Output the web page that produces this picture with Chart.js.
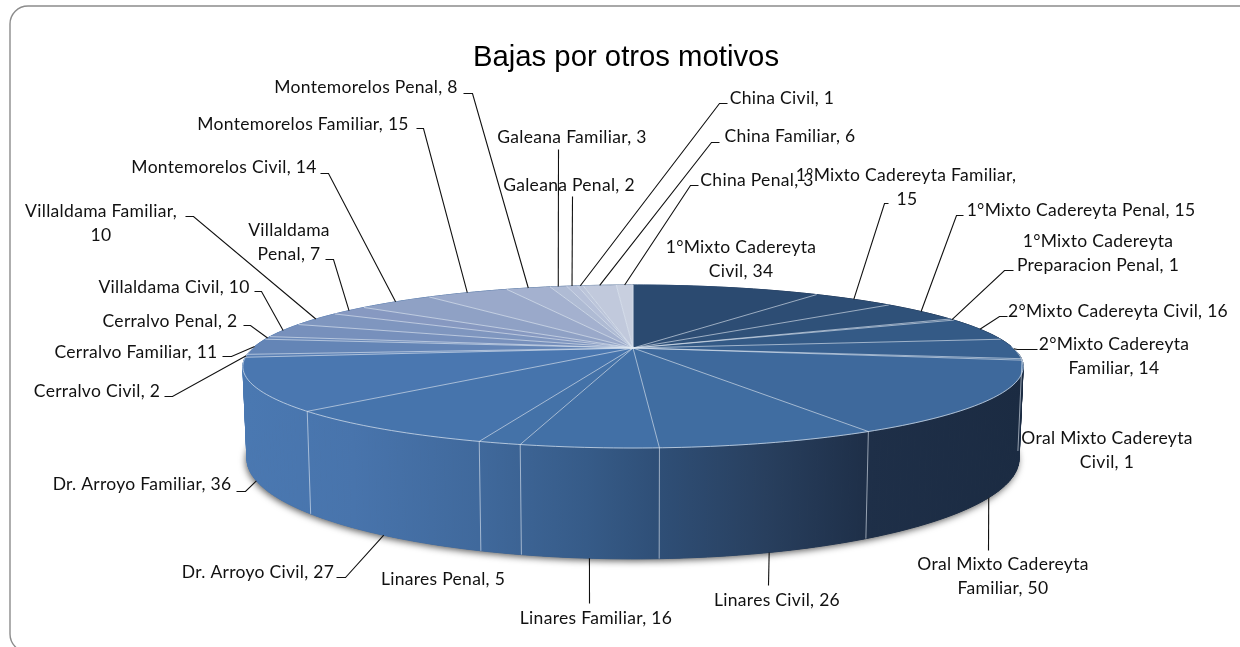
<!DOCTYPE html>
<html><head><meta charset="utf-8">
<style>html,body{margin:0;padding:0;background:#fff}canvas{display:block}</style>
<script src="https://cdn.jsdelivr.net/npm/chart.js@4"></script>
</head><body><canvas id="c" width="1240" height="647"></canvas>
<script>
const chartTitle = 'Bajas por otros motivos';
const categories = ['1°Mixto Cadereyta Civil','1°Mixto Cadereyta Familiar','1°Mixto Cadereyta Penal','1°Mixto Cadereyta Preparacion Penal','2°Mixto Cadereyta Civil','2°Mixto Cadereyta Familiar','Oral Mixto Cadereyta Civil','Oral Mixto Cadereyta Familiar','Linares Civil','Linares Familiar','Linares Penal','Dr. Arroyo Civil','Dr. Arroyo Familiar','Cerralvo Civil','Cerralvo Familiar','Cerralvo Penal','Villaldama Civil','Villaldama Familiar','Villaldama Penal','Montemorelos Civil','Montemorelos Familiar','Montemorelos Penal','Galeana Familiar','Galeana Penal','China Civil','China Familiar','China Penal'];
const values = [34,15,15,1,16,14,1,50,26,16,5,27,36,2,11,2,10,10,7,14,15,8,3,2,1,6,3];
const palette = ['#2b4a70','#2d4d74','#2f5179','#31547d','#345a86','#38608f','#3a6393','#3e699c','#406da1','#4270a6','#4472a8','#4674ac','#4a77b0','#5a80b5','#6485b6','#6c8ab9','#7790bc','#7f96bf','#8799c1','#8fa1c5','#9aa9ca','#a4b1cf','#afbbd4','#b6c0d8','#bcc5da','#c1c9dc','#c8cfdf'];
// Layout only: text centre x, first line mid y, words on first line, leader start [x,y] and elbow x
const labelLayout = [
 {x:741,y:247,w:2},{x:906,y:175,w:3,l:[888,203,884],second:907},{x:1081,y:210,l:[963,215,956]},{x:1098,y:241,w:2,l:[1013,270,1004]},
 {x:1118,y:311,l:[1007,316,999]},{x:1114,y:344,w:2,l:[1037,349,1017]},{x:1107,y:438,w:3},{x:1003,y:564,w:3,l:[988,550,988]},
 {x:777,y:600,l:[768,585,768]},{x:596,y:618,l:[589,603,589]},{x:443,y:579},{x:258,y:572,l:[336,577,345]},{x:142,y:484,l:[236,491,245]},
 {x:97,y:391,l:[164,396,172]},{x:136,y:352,l:[222,356,231]},{x:170,y:321,l:[243,325,250]},{x:174,y:287,l:[254,291,261]},
 {x:101,y:211,w:2,l:[185,216,193]},{x:289,y:230,w:1,l:[325,259,333]},{x:224,y:167,l:[320,173,328]},{x:303,y:124,l:[416,128,423]},{x:366,y:87,l:[463,93,472]},
 {x:572,y:137,l:[558,149,558]},{x:569,y:185,l:[572,196,572]},{x:782,y:98,l:[727,103,719]},{x:790,y:136,l:[719,142,711]},{x:757,y:180,l:[698,185,690]}
];
// Projection of the pie's unit circle on the page
const top3d = {cx:633,cy:348,rx:380,ry:77.3,k:0.227};
const bot3d = {cx:633,cy:436,rx:376,ry:95,k:0.227};
function proj(p,a){const u=Math.cos(a),v=Math.sin(a),s=1/(1-p.k*v);return [p.cx+p.rx*u*s,p.cy+p.ry*v*s];}
function arcPts(p,a0,a1){const pts=[],n=Math.max(2,Math.ceil((a1-a0)/0.02));for(let i=0;i<=n;i++)pts.push(proj(p,a0+(a1-a0)*i/n));return pts;}
function trace(ctx,pts,start){pts.forEach((q,i)=>{(i===0&&start)?ctx.moveTo(q[0],q[1]):ctx.lineTo(q[0],q[1]);});}

const pie3d = {
  id:'pie3d',
  beforeDraw(chart){
    const ctx=chart.ctx;ctx.save();ctx.fillStyle='#fff';ctx.fillRect(0,0,1240,647);
    ctx.strokeStyle='#8c8c8c';ctx.lineWidth=1.4;ctx.beginPath();ctx.roundRect(10,6,1250,646,18);ctx.stroke();ctx.restore();
  },
  beforeDatasetDraw(chart){
    const ctx=chart.ctx,arcs=chart.getDatasetMeta(0).data;
    ctx.save();
    // drop shadow
    ctx.save();ctx.shadowColor='rgba(0,0,0,0.65)';ctx.shadowBlur=7;ctx.shadowOffsetX=-1;ctx.shadowOffsetY=2;
    ctx.fillStyle='#555';ctx.beginPath();trace(ctx,arcPts(bot3d,0,Math.PI*2),true);ctx.closePath();ctx.fill();ctx.restore();
    // walls: a strip of quads all the way round, the top face covers the back
    const g=ctx.createLinearGradient(245,0,1022,0);
    [[0,'#4a78b1'],[0.14,'#4874ac'],[0.30,'#40699c'],[0.44,'#365b88'],[0.53,'#2f4f77'],[0.67,'#283f5e'],[0.80,'#1e2f48'],[1,'#1b2b42']].forEach(s=>g.addColorStop(s[0],s[1]));
    ctx.fillStyle=g;ctx.strokeStyle=g;ctx.lineWidth=1;
    const st=arcPts(top3d,0,Math.PI*2),sb=arcPts(bot3d,0,Math.PI*2);
    for(let i=0;i<st.length-1;i++){
      ctx.beginPath();ctx.moveTo(st[i][0],st[i][1]);ctx.lineTo(st[i+1][0],st[i+1][1]);ctx.lineTo(sb[i+1][0],sb[i+1][1]);ctx.lineTo(sb[i][0],sb[i][1]);ctx.closePath();ctx.fill();ctx.stroke();
    }
    // top faces
    const arcsList=Array.from(arcs);
    arcsList.forEach((el,i)=>{
      ctx.fillStyle=palette[i];ctx.strokeStyle=palette[i];ctx.lineWidth=0.6;
      ctx.beginPath();ctx.moveTo(top3d.cx,top3d.cy);trace(ctx,arcPts(top3d,el.startAngle,el.endAngle),false);ctx.closePath();ctx.fill();ctx.stroke();
    });
    // slice edges and wall edges
    ctx.strokeStyle='rgba(225,232,242,0.62)';ctx.lineWidth=1;
    arcsList.forEach(el=>{
      const q=proj(top3d,el.startAngle);
      ctx.beginPath();ctx.moveTo(top3d.cx,top3d.cy);ctx.lineTo(q[0],q[1]);ctx.stroke();
      if(Math.sin(el.startAngle)>0.15){const b=proj(bot3d,el.startAngle);ctx.beginPath();ctx.moveTo(q[0],q[1]);ctx.lineTo(b[0],b[1]);ctx.stroke();}
    });
    ctx.strokeStyle='rgba(215,225,238,0.75)';ctx.beginPath();trace(ctx,arcPts(top3d,-0.02,Math.PI+0.02),true);ctx.stroke();
    // leaders
    ctx.strokeStyle='#111';ctx.lineWidth=1.1;
    arcsList.forEach((el,i)=>{
      const L=labelLayout[i].l;if(!L)return;
      const mid=(el.startAngle+el.endAngle)/2;
      const e=proj(Math.sin(mid)>0.2?bot3d:top3d,mid);
      ctx.beginPath();ctx.moveTo(L[0]+.5,L[1]+.5);ctx.lineTo(L[2]+.5,L[1]+.5);ctx.lineTo(e[0],e[1]);ctx.stroke();
    });
    // labels
    ctx.fillStyle='#111';ctx.font='17.5px Lato';ctx.letterSpacing='0.3px';ctx.textAlign='center';ctx.textBaseline='middle';
    categories.forEach((c,i)=>{
      const d=labelLayout[i],words=(c+', '+values[i]).split(' ');
      const lines=d.w?[words.slice(0,d.w).join(' '),words.slice(d.w).join(' ')]:[words.join(' ')];
      lines.forEach((t,j)=>ctx.fillText(t,j&&d.second?d.second:d.x,d.y+j*24));
    });
    ctx.restore();
    return false;
  }
};
new Chart(document.getElementById('c'),{
  type:'pie',
  data:{labels:categories,datasets:[{data:values,backgroundColor:palette}]},
  options:{responsive:false,animation:false,rotation:0,
    layout:{padding:{left:12}},
    plugins:{legend:{display:false},tooltip:{enabled:false},
      title:{display:true,text:chartTitle,color:'#000',font:{family:'Liberation Sans',size:29.3,weight:'normal'},padding:{top:40,bottom:8}}}},
  plugins:[pie3d]
});
</script></body></html>
